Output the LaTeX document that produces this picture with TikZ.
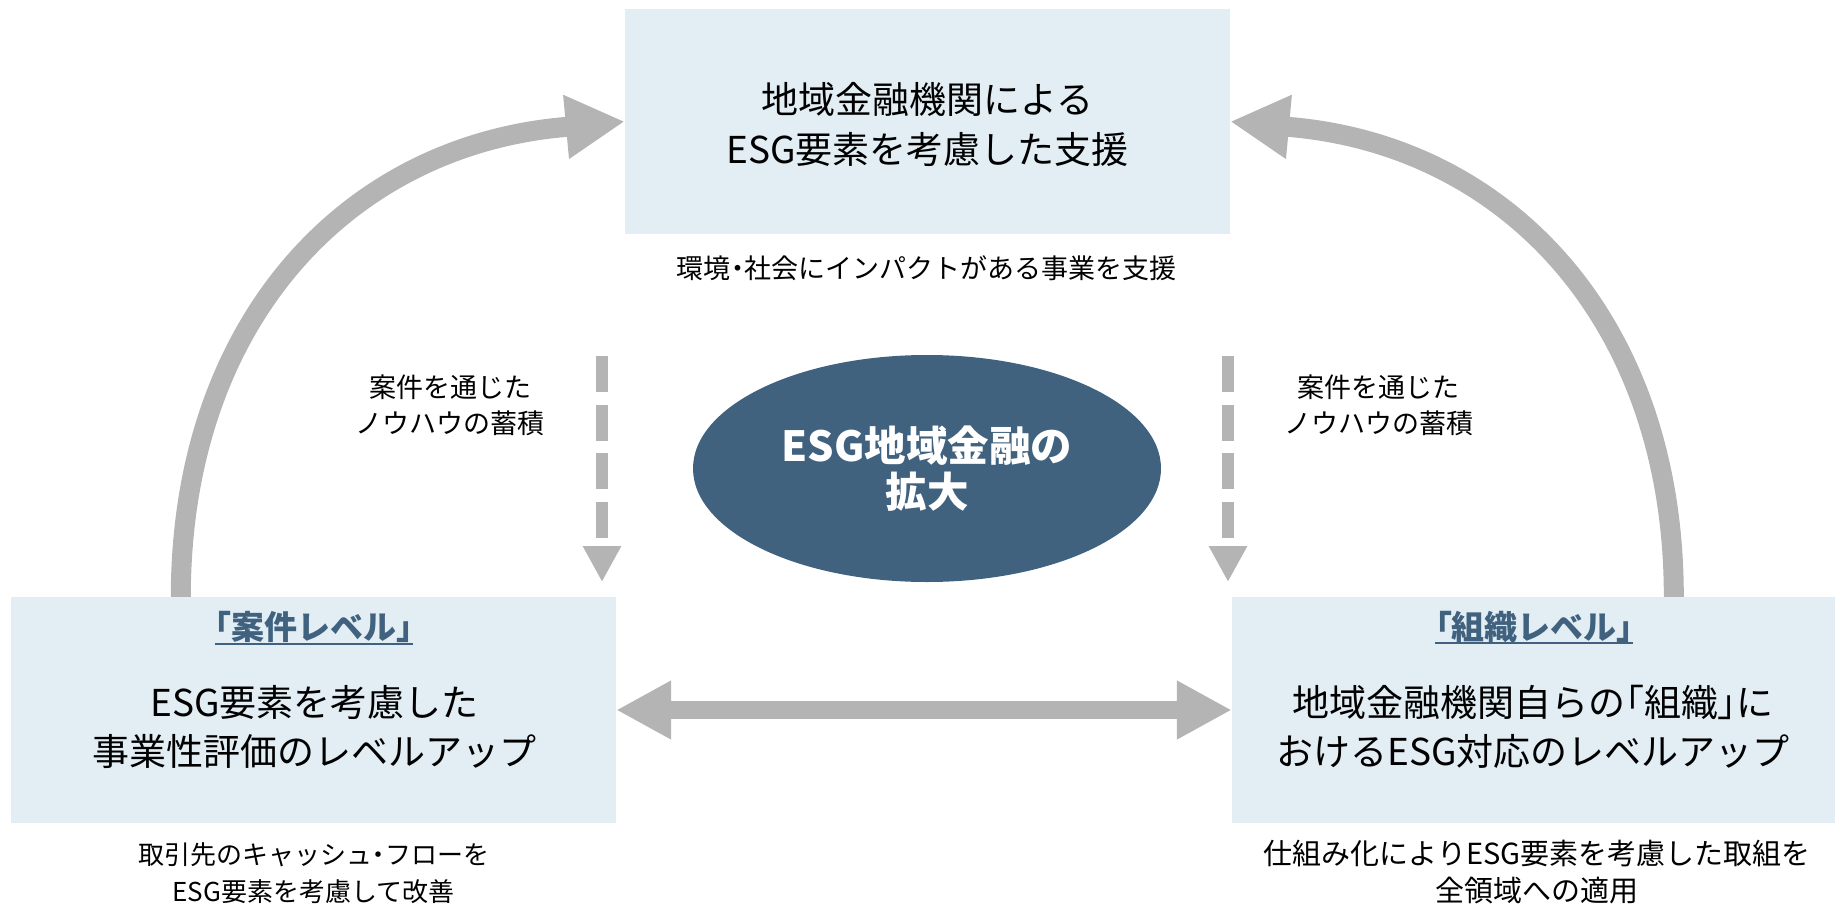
\documentclass[tikz,border=0pt]{standalone}
\usepackage{fontspec}
\setmainfont{Noto Sans CJK JP}
\newfontfamily\paltfont{Noto Sans CJK JP}[RawFeature=+palt]
\newcommand{\pk}[1]{{\paltfont #1}}
\usetikzlibrary{arrows.meta,shapes.geometric,calc}
\definecolor{boxfill}{HTML}{E2EDF4}
\definecolor{arrgray}{HTML}{B4B4B4}
\definecolor{navy}{HTML}{41627F}
\begin{document}
\begin{tikzpicture}[x=1pt,y=-1pt,
  panel/.style={rectangle, fill=boxfill, draw=none, inner sep=0pt},
  txt/.style={align=center, inner sep=0pt, text=black},
  maintxt/.style={txt, font=\fontsize{37}{49.5}\selectfont},
  subtxt/.style={txt, font=\fontsize{27}{37}\selectfont},
  headtxt/.style={txt, text=navy, font=\fontsize{33}{40}\selectfont\bfseries},
  bigarc/.style={draw=arrgray, line width=20pt, -{Triangle[length=59pt,width=60pt]}},
  harr/.style={draw=arrgray, line width=18.3pt, {Triangle[length=55pt,width=55pt]}-{Triangle[length=55pt,width=55pt]}},
  dasharr/.style={draw=arrgray, line width=12.3pt, dash pattern=on 36pt off 12.5pt, -{Triangle[length=36pt,width=36pt]}},
  uline/.style={draw=navy, line width=2pt}
]
\useasboundingbox (0,0) rectangle (1840,907);

% boxes
\node[panel, minimum width=605pt, minimum height=225pt] (tbox) at (927.5,121.5) {};
\node[panel, minimum width=605pt, minimum height=226pt] (lbox) at (313.5,710) {};
\node[panel, minimum width=603pt, minimum height=226pt] (rbox) at (1533.5,710) {};

% ellipse
\node[ellipse, fill=navy, draw=none, inner sep=0pt, minimum width=468pt, minimum height=227pt,
      align=center, text=white, font=\fontsize{41.5}{46.5}\selectfont\bfseries] (core) at (927,468.5)
      {ESG地域金融の\\拡大};

% texts
\node[maintxt] (ttext) at (927.5,124.7) {地域金融機関による\\ESG要素を考慮した支援};
\node[subtxt] (tsub) at (926.5,268.5) {環境\pk{・}社会にインパクトがある事業を支援};

\node[headtxt] (lhead) at (314,627) {\pk{「}案件レベル\pk{」}};
\node[maintxt] (lmain) at (314.5,727) {ESG要素を考慮した\\事業性評価のレベルアップ};
\node[txt, font=\fontsize{26}{37}\selectfont] (lsub) at (313.5,873) {取引先のキャッシュ\pk{・}フローを\\ESG要素を考慮して改善};

\node[headtxt] (rhead) at (1534,627) {\pk{「}組織レベル\pk{」}};
\node[maintxt] (rmain) at (1533,727) {地域金融機関自らの\pk{「}組織\pk{」}に\\おけるESG対応のレベルアップ};
\node[txt, font=\fontsize{29}{37}\selectfont] (rsub) at (1537,872.5) {仕組み化によりESG要素を考慮した取組を\\全領域への適用};

\node[subtxt, font=\fontsize{27}{36}\selectfont] (knowL) at (450,405) {案件を通じた\\ノウハウの蓄積};
\node[subtxt, font=\fontsize{27}{36}\selectfont] (knowR) at (1378.5,405) {案件を通じた\\ノウハウの蓄積};

% underlines
\draw[uline] ([yshift=-4pt]lhead.base west) -- ([yshift=-4pt]lhead.base east);
\draw[uline] ([yshift=-4pt]rhead.base west) -- ([yshift=-4pt]rhead.base east);

% curved arrows
\draw[bigarc] ($(lbox.north west)+(170,0)$) .. controls (181,323) and (346,146) .. (565,127) -- (tbox.west);
\draw[bigarc] ($(rbox.north west)+(442,0)$) .. controls (1674,323) and (1509,146) .. (1290,127) -- (tbox.east);

% horizontal double arrow
\draw[harr] (lbox.east) -- (rbox.west);

% dashed arrows
\coordinate (dLs) at (602,356);
\coordinate (dLe) at (602,582);
\coordinate (dRs) at (1228,356);
\coordinate (dRe) at (1228,582);
\draw[dasharr] (dLs) -- (dLe);
\draw[dasharr] (dRs) -- (dRe);
\end{tikzpicture}
\end{document}
